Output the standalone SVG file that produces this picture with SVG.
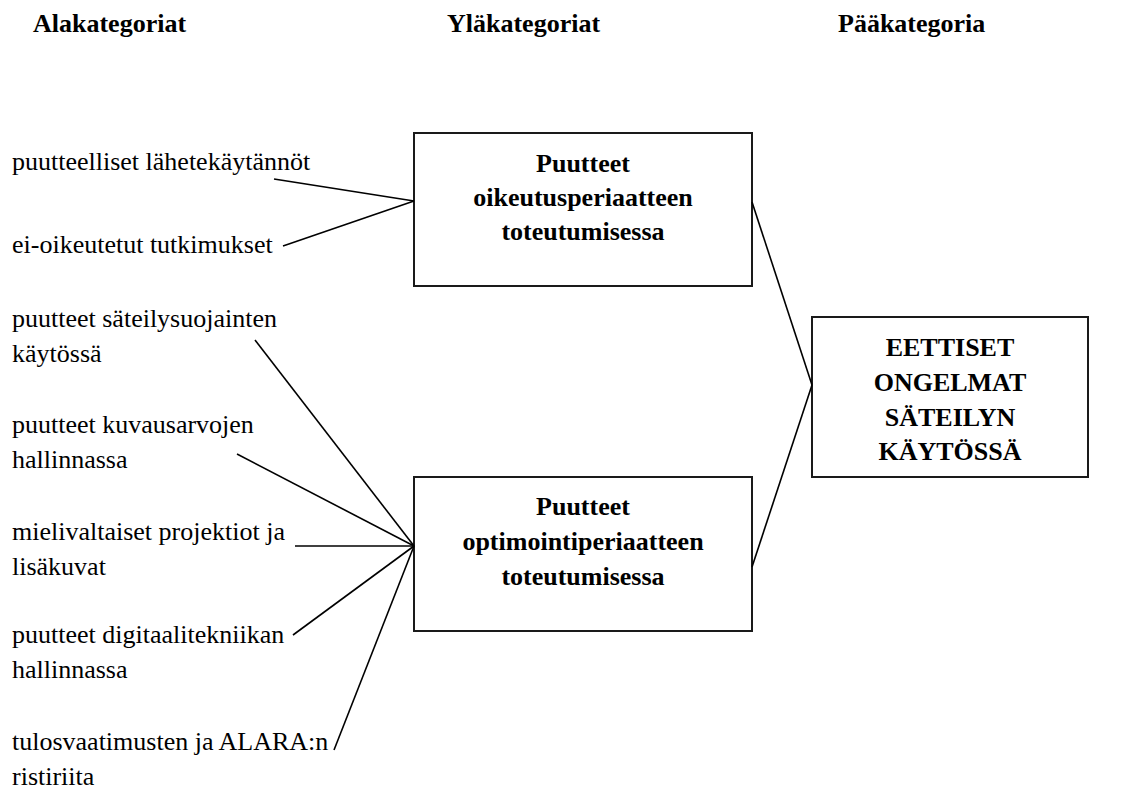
<svg xmlns="http://www.w3.org/2000/svg" width="1132" height="790" viewBox="0 0 1132 790">
  <style>
    text { font-family: "Liberation Serif", "DejaVu Serif", serif; font-size: 26px; fill: #000; }
    .hdr { font-weight: bold; }
    .box { fill: #fff; stroke: #1a1a1a; stroke-width: 2; }
    .lbl { font-weight: bold; text-anchor: middle; }
    .conn line { stroke: #000; stroke-width: 1.6; }
  </style>
  <rect width="1132" height="790" fill="#fff"/>

  <!-- column headings -->
  <g id="headings">
    <text class="hdr" x="33" y="32">Alakategoriat</text>
    <text class="hdr" x="447" y="32">Yläkategoriat</text>
    <text class="hdr" x="838" y="32">Pääkategoria</text>
  </g>

  <!-- subcategory labels -->
  <g id="sub1"><text x="12" y="170">puutteelliset lähetekäytännöt</text></g>
  <g id="sub2"><text x="12" y="253">ei-oikeutetut tutkimukset</text></g>
  <g id="sub3"><text x="12" y="327">puutteet säteilysuojainten</text><text x="12" y="362">käytössä</text></g>
  <g id="sub4"><text x="12" y="433">puutteet kuvausarvojen</text><text x="12" y="468">hallinnassa</text></g>
  <g id="sub5"><text x="12" y="540">mielivaltaiset projektiot ja</text><text x="12" y="575">lisäkuvat</text></g>
  <g id="sub6"><text x="12" y="643">puutteet digitaalitekniikan</text><text x="12" y="678">hallinnassa</text></g>
  <g id="sub7"><text x="12" y="750">tulosvaatimusten ja ALARA:n</text><text x="12" y="785">ristiriita</text></g>

  <!-- upper categories -->
  <g id="upper1">
    <rect class="box" x="414" y="133" width="338" height="153"/>
    <text class="lbl" x="583" y="172">Puutteet</text>
    <text class="lbl" x="583" y="206">oikeutusperiaatteen</text>
    <text class="lbl" x="583" y="240">toteutumisessa</text>
  </g>
  <g id="upper2">
    <rect class="box" x="414" y="477" width="338" height="154"/>
    <text class="lbl" x="583" y="515">Puutteet</text>
    <text class="lbl" x="583" y="550">optimointiperiaatteen</text>
    <text class="lbl" x="583" y="585">toteutumisessa</text>
  </g>

  <!-- main category -->
  <g id="main">
    <rect class="box" x="812" y="317" width="276" height="160"/>
    <text class="lbl" x="950" y="356">EETTISET</text>
    <text class="lbl" x="950" y="391">ONGELMAT</text>
    <text class="lbl" x="950" y="426">SÄTEILYN</text>
    <text class="lbl" x="950" y="460">KÄYTÖSSÄ</text>
  </g>

  <!-- connectors -->
  <g id="connectors" class="conn">
    <line x1="274" y1="179" x2="414" y2="201"/>
    <line x1="283" y1="246" x2="414" y2="201"/>
    <line x1="255" y1="340" x2="414" y2="546"/>
    <line x1="237" y1="454" x2="414" y2="546"/>
    <line x1="295" y1="546" x2="414" y2="546"/>
    <line x1="293" y1="635" x2="414" y2="546"/>
    <line x1="334" y1="750" x2="414" y2="546"/>
    <line x1="752" y1="202" x2="812" y2="385"/>
    <line x1="752" y1="567" x2="812" y2="385"/>
  </g>
</svg>
